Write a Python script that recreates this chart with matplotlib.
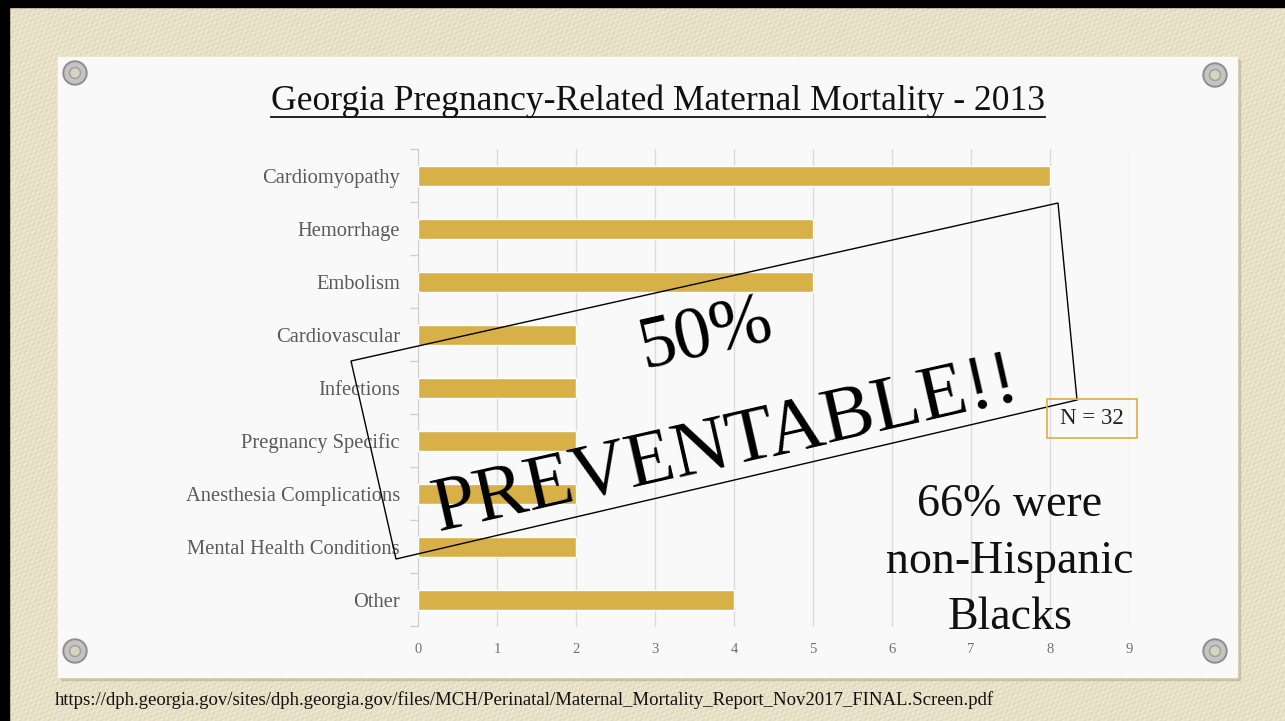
import numpy as np
import matplotlib
matplotlib.use('Agg')
import matplotlib.pyplot as plt
from matplotlib.patches import Rectangle, Polygon, Circle
from matplotlib.lines import Line2D

causes = ['Cardiomyopathy', 'Hemorrhage', 'Embolism', 'Cardiovascular',
          'Infections', 'Pregnancy Specific', 'Anesthesia Complications',
          'Mental Health Conditions', 'Other']
deaths = [8, 5, 5, 2, 2, 2, 2, 2, 4]
xticks = list(range(0, 10))

title = 'Georgia Pregnancy-Related Maternal Mortality - 2013'
source = ('https://dph.georgia.gov/sites/dph.georgia.gov/files/MCH/Perinatal/'
          'Maternal_Mortality_Report_Nov2017_FINAL.Screen.pdf')

W, H = 1285, 721
SERIF = 'Liberation Serif'
GOLD = '#d8b048'

fig = plt.figure(figsize=(W / 100, H / 100), dpi=100)

# slide background in pixel coordinates
bg = fig.add_axes([0, 0, 1, 1], zorder=0)
bg.set_xlim(0, W)
bg.set_ylim(H, 0)
bg.axis('off')

# canvas-like weave for the backdrop
yy, xx = np.mgrid[0:H, 0:W]
weave = np.sin(2 * np.pi * (xx + yy) / 7.0) * np.sin(2 * np.pi * (xx - yy) / 15.0)
base = np.array([233, 224, 200]) / 255.0
tex = base[None, None, :] + 0.035 * weave[:, :, None]
bg.imshow(np.clip(tex, 0, 1), extent=(0, W, H, 0), aspect='auto', zorder=0)

bg.add_patch(Rectangle((0, 0), W, 7, color='black', zorder=1))
bg.add_patch(Rectangle((0, 0), 9, H, color='black', zorder=1))

# paper card with a soft shadow
bg.add_patch(Rectangle((61, 60), 1179, 620, color='#b8ad90', alpha=0.5, zorder=1))
bg.add_patch(Rectangle((58, 57), 1179, 620, color='#f9f9f9', zorder=2))

for px, py in [(75, 73), (1215, 75), (75, 651), (1215, 651)]:
    bg.add_patch(Circle((px, py), 12, color='#8f8f8f', zorder=3))
    bg.add_patch(Circle((px, py), 10, color='#c4c4c4', zorder=3))
    bg.add_patch(Circle((px, py), 5.5, color='#a0a098', zorder=3))
    bg.add_patch(Circle((px, py), 4, color='#d8d3c0', zorder=3))

t = bg.text(658, 101, title, fontsize=25.6, family=SERIF, color='#111111',
            ha='center', va='center', zorder=4)
fig.canvas.draw()
bb = t.get_window_extent(fig.canvas.get_renderer())
bg.add_line(Line2D([bb.x0, bb.x1], [117, 117], color='#111111', lw=1.3, zorder=4))

bg.text(55, 700, source, fontsize=13.5, family=SERIF, color='#111111',
        ha='left', va='center', zorder=4)

# bar chart
left, right, top, bottom = 418, 1129, 149.5, 626.5
ax = fig.add_axes([left / W, 1 - bottom / H, (right - left) / W, (bottom - top) / H],
                  zorder=2)
ax.patch.set_alpha(0)
y = np.arange(len(causes))
ax.barh(y, deaths, height=0.38, color=GOLD, edgecolor='white', linewidth=1, zorder=3)
ax.set_xlim(0, 9)
ax.set_ylim(len(causes) - 0.5, -0.5)
ax.set_xticks(xticks)
ax.set_xticklabels([str(v) for v in xticks], family=SERIF, fontsize=10.5, color='#707070')
ax.set_yticks(y)
ax.set_yticklabels(causes, family=SERIF, fontsize=14.8, color='#5a5a5a')
ax.set_yticks(np.arange(-0.5, len(causes)), minor=True)
ax.tick_params(axis='x', length=0, pad=12)
ax.tick_params(axis='y', which='major', length=0, pad=13)
ax.tick_params(axis='y', which='minor', length=6, color='#d0d0d0', width=1)
ax.grid(axis='x', color='#dcdcdc', lw=1, zorder=0)
for s in ['top', 'right', 'bottom']:
    ax.spines[s].set_visible(False)
ax.spines['left'].set_color('#d0d0d0')

# overlay with the stamp and the notes
ov = fig.add_axes([0, 0, 1, 1], zorder=5)
ov.set_xlim(0, W)
ov.set_ylim(H, 0)
ov.axis('off')
ov.patch.set_alpha(0)

ov.add_patch(Polygon([(351, 361), (1058, 203), (1077, 400), (396, 559)],
                     closed=True, fill=False, edgecolor='black', lw=1))
ov.text(706, 336, '50%', fontsize=53, family=SERIF, rotation=12.8,
        ha='center', va='center', rotation_mode='anchor')
ov.text(726, 446, 'PREVENTABLE!!', fontsize=56, family=SERIF, rotation=12.8,
        ha='center', va='center', rotation_mode='anchor')

ov.add_patch(Rectangle((1047, 399), 90, 39, fill=False, edgecolor='#dcae3c', lw=1.2))
ov.text(1092, 419, 'N = 32', fontsize=16.5, family=SERIF, ha='center', va='center',
        color='#222222')

for line, ly in zip(['66% were', 'non-Hispanic', 'Blacks'], [505, 562, 618]):
    ov.text(1010, ly, line, fontsize=33, family=SERIF, ha='center', va='center',
            color='#111111')

fig.savefig('out.png', dpi=100)
